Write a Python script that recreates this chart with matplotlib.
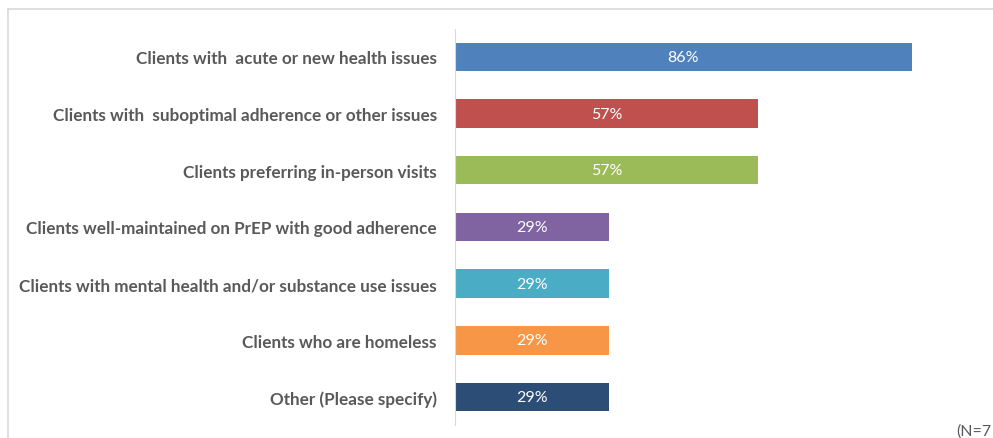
import matplotlib.pyplot as plt
from matplotlib.lines import Line2D

categorias = [
    "Clients with  acute or new health issues",
    "Clients with  suboptimal adherence or other issues",
    "Clients preferring in-person visits",
    "Clients well-maintained on PrEP with good adherence",
    "Clients with mental health and/or substance use issues",
    "Clients who are homeless",
    "Other (Please specify)",
]
valores = [86, 57, 57, 29, 29, 29, 29]
cores = ["#4F81BD", "#C0504D", "#9BBB59", "#8064A2", "#4BACC6", "#F79646", "#2C4D75"]

fig = plt.figure(figsize=(9.93, 4.39), dpi=100)
ax = fig.add_axes([0.4582, 0.0287, 0.5347, 0.904])

pos = list(range(len(categorias)))
ax.barh(pos, valores, height=0.5, color=cores)
for p, v in zip(pos, valores):
    ax.text(v / 2, p, f"{v}%", ha="center", va="center", color="white",
            fontsize=11.5, family="Lato")

ax.set_xlim(0, 100)
ax.set_ylim(6.5, -0.5)
ax.set_yticks(pos)
ax.set_yticklabels(categorias, fontsize=12.3, family="Lato", fontweight="bold",
                   color="#595959")
ax.tick_params(axis="y", length=0, pad=13)
ax.set_xticks([])
for s in ["top", "right", "bottom"]:
    ax.spines[s].set_visible(False)
ax.spines["left"].set_color("#D9D9D9")

# moldura cinza clara
fig.add_artist(Line2D([0.008, 1.0], [0.977, 0.977], color="#D9D9D9", lw=1.2,
                      transform=fig.transFigure))
fig.add_artist(Line2D([0.008, 0.008], [0.0, 0.977], color="#D9D9D9", lw=1.2,
                      transform=fig.transFigure))

# no original o texto aparece cortado na borda
fig.text(0.998, 0.0, "(N=7", fontsize=11.5, family="Lato", color="#595959",
         ha="right", va="bottom")

fig.savefig("out.png", dpi=100)
